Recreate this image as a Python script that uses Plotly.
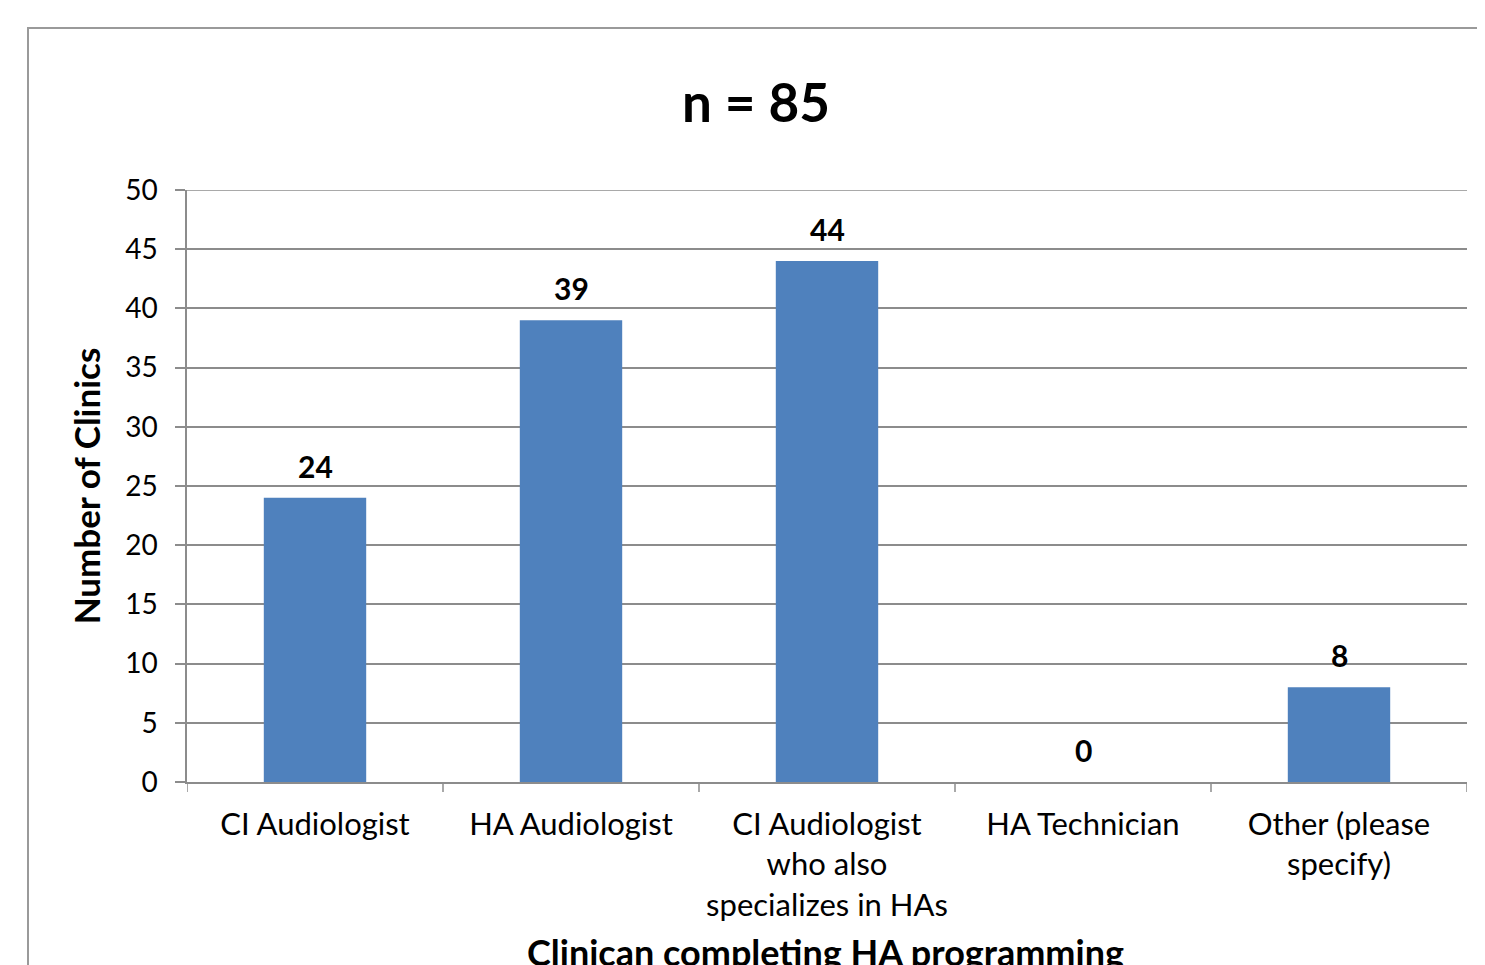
import plotly.graph_objects as go

categories = ["CI Audiologist", "HA Audiologist", "CI Audiologist<br>who also<br>specializes in HAs",
              "HA Technician", "Other (please<br>specify)"]
values = [24, 39, 44, 0, 8]
y_ticks = [0, 5, 10, 15, 20, 25, 30, 35, 40, 45, 50]

title_text = "n = 85"
y_title = "Number of Clinics"
x_title = "Clinican completing HA programming"

FONT = "Lato, 'Open Sans', sans-serif"
GRID = "#8c8c8c"

# page body has an 8px margin -> compensate
OFF = 8
W, H = 1485 - OFF, 965 - OFF
L, R, T, B = 187 - OFF, 18, 190 - OFF, 183
PW, PH = W - L - R, H - T - B

fig = go.Figure()
fig.add_trace(go.Bar(
    x=list(range(len(categories))), y=values, width=0.4,
    marker=dict(color="#4F81BD", line=dict(width=0)),
    hoverinfo="x+y",
))

# data labels
for i, v in enumerate(values):
    fig.add_annotation(x=i, y=v, xref="x", yref="y", text=str(v), showarrow=False,
                       yanchor="bottom", yshift=12,
                       font=dict(family=FONT, size=30, color="#000", weight="bold"))

fig.update_layout(
    width=W, height=H,
    margin=dict(l=L, r=R, t=T, b=B, pad=0),
    paper_bgcolor="white", plot_bgcolor="white",
    showlegend=False,
    title=dict(text=title_text, x=(756 - OFF) / W, xanchor="center", xref="container",
               y=1 - (103 - OFF) / H, yanchor="middle",
               font=dict(family=FONT, size=53, color="#000", weight="bold")),
    xaxis=dict(
        tickmode="array", tickvals=list(range(len(categories))), ticktext=categories,
        range=[-0.5, len(categories) - 0.5],
        showgrid=False, showline=True, linecolor=GRID, linewidth=1.5,
        ticks="", tickfont=dict(family=FONT, size=31, color="#000"),
        ticklabelstandoff=14,
        zeroline=False,
    ),
    yaxis=dict(
        range=[0, 50], tickvals=y_ticks, showgrid=True, gridcolor=GRID, gridwidth=1.5,
        showline=True, linecolor=GRID, linewidth=1.5,
        ticks="outside", ticklen=10, tickcolor=GRID, tickwidth=1.5,
        ticklabelstandoff=12,
        tickfont=dict(family=FONT, size=28, color="#000"),
        zeroline=False,
        title=dict(text=y_title, font=dict(family=FONT, size=35, color="#000", weight="bold"),
                   standoff=14),
    ),
)

# top gridline at max tick
fig.add_shape(type="line", xref="paper", yref="y", x0=-10 / PW, x1=1, y0=y_ticks[-1], y1=y_ticks[-1],
              line=dict(color=GRID, width=1.5))

# category boundary ticks on x axis
for b in [i - 0.5 for i in range(len(categories) + 1)]:
    fig.add_shape(type="line", xref="x", yref="paper", x0=b, x1=b, y0=0, y1=-10 / PH,
                  line=dict(color=GRID, width=1.5))

# x-axis title (cut at bottom like reference)
fig.add_annotation(text=x_title, xref="paper", yref="paper", x=(825 - 187) / PW,
                   y=-(952 - 782) / PH, yanchor="middle", showarrow=False,
                   font=dict(family=FONT, size=36, color="#000", weight="bold"))

# outer chart frame
fig.add_shape(type="rect", xref="paper", yref="paper",
              x0=(28 - 187) / PW, x1=1.2, y0=-0.5, y1=(782 - 28) / PH,
              line=dict(color="#9a9a9a", width=2), layer="below")

fig.write_html("out.html")
